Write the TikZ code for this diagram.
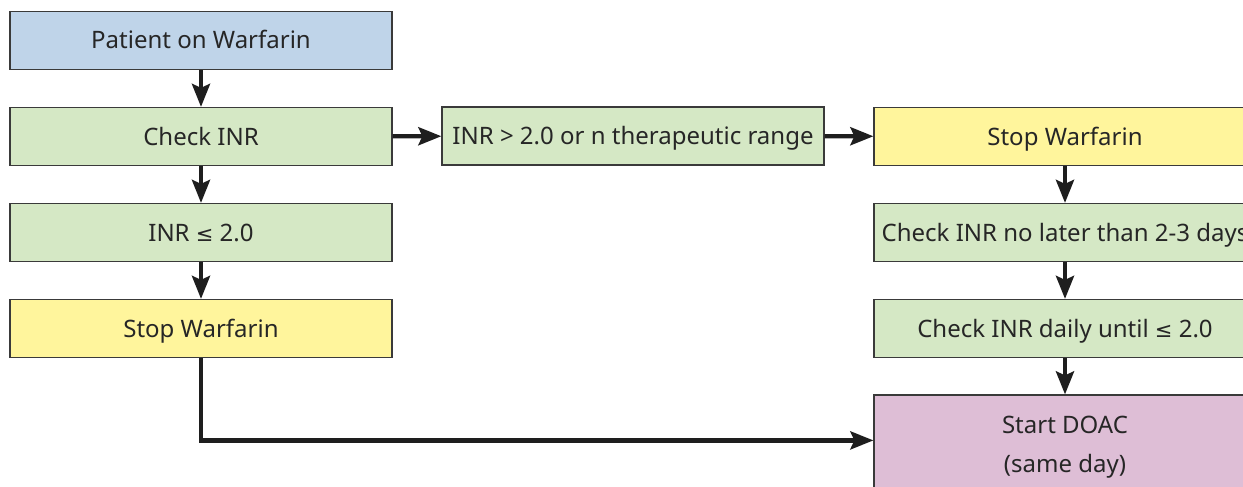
\documentclass[tikz,border=0pt]{standalone}
\usepackage{fontspec}
\setmainfont{Noto Sans}
\newfontfamily\symfont{DejaVu Sans}
\newcommand{\lessEq}{{\symfont\fontsize{21}{21}\selectfont ≤}}
\usetikzlibrary{arrows.meta}
\definecolor{bluefill}{HTML}{BFD4E9}
\definecolor{greenfill}{HTML}{D5E8C5}
\definecolor{yellowfill}{HTML}{FFF59C}
\definecolor{purplefill}{HTML}{DEBED6}
\definecolor{edgegray}{HTML}{3A3A3A}
\definecolor{arrowblack}{HTML}{1E1E1E}
\tikzset{
  boxtext/.style={font=\fontsize{24}{39}\selectfont, text=black!85, align=center},
  box/.style={boxtext, draw=edgegray, line width=1.2pt, minimum width=382pt, minimum height=58pt,
    inner sep=0pt, text height=17pt, text depth=0pt},
  bluebox/.style={box, fill=bluefill},
  greenbox/.style={box, fill=greenfill},
  yellowbox/.style={box, fill=yellowfill},
  purplebox/.style={box, fill=purplefill},
  flow/.style={draw=arrowblack, line width=4.2pt, -{Stealth[length=23pt,width=18pt,inset=4pt]}}
}
\begin{document}
\begin{tikzpicture}[x=1pt,y=-1pt]
\useasboundingbox (0,0) rectangle (1243,487);
\clip (0,0) rectangle (1243,487);
\node[bluebox]   (p)  at (201,40.5)  {Patient on Warfarin};
\node[greenbox]  (c)  at (201,136.5) {Check INR};
\node[greenbox]  (le) at (201,232.5) {INR \lessEq\ 2.0};
\node[yellowbox] (sl) at (201,328.5) {Stop Warfarin};
\node[greenbox]  (gt) at (633,136)   {INR > 2.0 or n therapeutic range};
\node[yellowbox] (sr) at (1065,136.5) {Stop Warfarin};
\node[greenbox]  (cn) at (1065,232.5) {Check INR no later than 2-3 days};
\node[greenbox]  (cd) at (1065,328.5) {Check INR daily until \lessEq\ 2.0};
\node[purplebox, minimum height=110pt, text height=, text depth=] (doac) at (1065,450) {};
\node[boxtext, inner sep=0pt] (doact) at (1065,447) {Start DOAC\\(same day)};
\path (doac.north west) ++(0,46) coordinate (j);
\draw[flow] (p) -- (c);
\draw[flow] (c) -- (le);
\draw[flow] (le) -- (sl);
\draw[flow] (c) -- (gt);
\draw[flow] (gt) -- (sr);
\draw[flow] (sr) -- (cn);
\draw[flow] (cn) -- (cd);
\draw[flow] (cd) -- (doac);
\draw[flow] (sl.south) |- (j);
\end{tikzpicture}
\end{document}
